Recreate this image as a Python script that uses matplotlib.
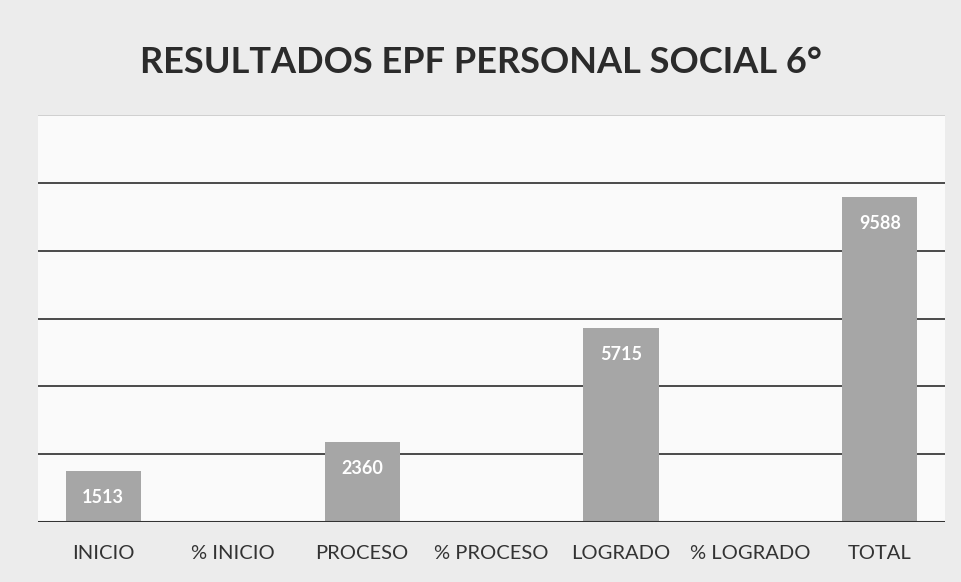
import matplotlib
matplotlib.use("Agg")
import matplotlib.pyplot as plt
import numpy as np

# datos del grafico
categorias = ["INICIO", "% INICIO", "PROCESO", "% PROCESO", "LOGRADO", "% LOGRADO", "TOTAL"]
valores = [1513, 0.1578, 2360, 0.2461, 5715, 0.5961, 9588]
mostrar_etiqueta = [True, False, True, False, True, False, True]

plt.rcParams["font.family"] = ["Lato", "DejaVu Sans"]

fig = plt.figure(figsize=(9.62, 5.82), dpi=100)
fig.patch.set_facecolor("#ececec")
ax = fig.add_axes([0.04, 0.103, 0.942, 0.699])
ax.set_facecolor("#fafafa")

x = np.arange(len(categorias))
barras = ax.bar(x, valores, width=0.58, color="#a6a6a6", zorder=3)

for b, v, m in zip(barras, valores, mostrar_etiqueta):
    if m:
        ax.annotate(str(v), (b.get_x() + b.get_width() / 2, b.get_height()),
                    xytext=(0, -19), textcoords="offset points",
                    ha="center", va="center", color="white",
                    fontsize=13, fontweight="bold", zorder=4)

ax.set_ylim(0, 12000)
ax.set_yticks(np.arange(0, 12001, 2000))
ax.set_xlim(-0.5, len(categorias) - 0.5)
ax.grid(axis="y", color="#4a4a4a", linewidth=1.4, zorder=1)
ax.get_ygridlines()[-1].set_color("#cfcfcf")
ax.axhline(0, color="#333333", linewidth=2.2, zorder=5)
ax.tick_params(axis="y", left=False, labelleft=False)
ax.tick_params(axis="x", bottom=False, labelsize=14.5, labelcolor="#333333", pad=13)
ax.set_xticks(x)
ax.set_xticklabels(categorias)
for s in ax.spines.values():
    s.set_visible(False)

fig.text(0.5, 0.892, "RESULTADOS EPF PERSONAL SOCIAL 6°", ha="center", va="center",
         fontsize=26, fontweight="bold", color="#2b2b2b")

fig.savefig("out.png", dpi=100, facecolor=fig.get_facecolor())
